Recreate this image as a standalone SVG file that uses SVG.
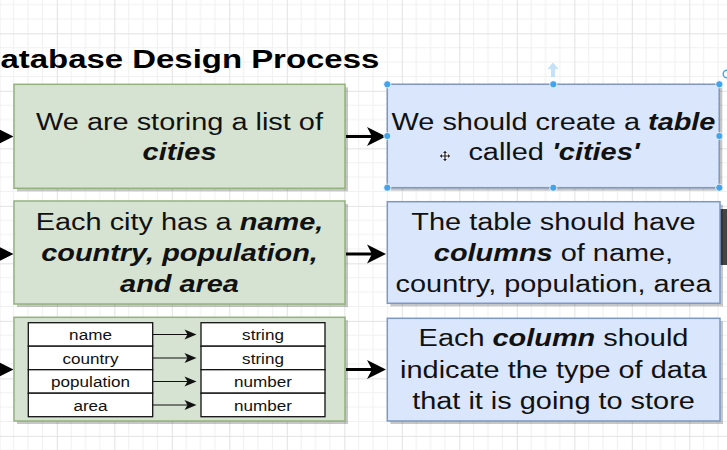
<svg xmlns="http://www.w3.org/2000/svg" width="727" height="450" viewBox="0 0 727 450">
<style>
.t{font-family:"Liberation Sans",Arial,sans-serif;font-size:24.5px;fill:#111;text-anchor:middle}
.s{font-family:"Liberation Sans",Arial,sans-serif;font-size:14.5px;fill:#111;text-anchor:middle}
.bi{font-weight:bold;font-style:italic}
.title{font-family:"Liberation Sans",Arial,sans-serif;font-size:26.5px;font-weight:bold;fill:#000}
.g{fill:#d6e3d2;stroke:#93b27c;stroke-width:1.5}
.b{fill:#dae6fb;stroke:#7d98c4;stroke-width:1.5}
.sh{fill:#000;opacity:.22}
.cell{fill:#fff;stroke:#111;stroke-width:1.3}
.big{stroke:#000;stroke-width:3;fill:none;marker-end:url(#ah)}
.thin{stroke:#111;stroke-width:1.2;fill:none;marker-end:url(#ahs)}
.hd{fill:#45a3ec;stroke:#fff;stroke-width:0.8}
</style>
<defs>
<pattern id="grid" width="57.5" height="57.5" patternUnits="userSpaceOnUse" x="-0.7" y="33.35">
<rect width="57.5" height="57.5" fill="#fff"/>
<path d="M14.375 0V57.5M28.75 0V57.5M43.125 0V57.5M0 14.375H57.5M0 28.75H57.5M0 43.125H57.5" stroke="#f1f1f1" stroke-width="1"/>
<path d="M0.5 0V57.5M0 0.5H57.5" stroke="#e2e2e2" stroke-width="1"/>
</pattern>
<marker id="ah" markerUnits="userSpaceOnUse" markerWidth="20" markerHeight="20" refX="11" refY="9.5" orient="auto" overflow="visible">
<path d="M0,0 L19,9.5 L0,19 L5,9.5 Z" fill="#000"/>
</marker>
<marker id="ahs" markerUnits="userSpaceOnUse" markerWidth="13" markerHeight="11" refX="8" refY="5" orient="auto" overflow="visible">
<path d="M0,0 L12,5 L0,10 L3,5 Z" fill="#111"/>
</marker>
</defs>
<rect width="727" height="450" fill="url(#grid)"/>

<text class="title" transform="translate(0.5,68) scale(1.243,1)">atabase Design Process</text>

<rect x="718" y="209" width="9" height="56" fill="#454545"/>

<g id="connectors">
<path class="big" d="M-30,136.5H5.5"/>
<path class="big" d="M-30,254H5.5"/>
<path class="big" d="M-30,369.5H5.5"/>
<path class="big" d="M346,136.5H378"/>
<path class="big" d="M346,254H378"/>
<path class="big" d="M346,369.5H378"/>
</g>

<g id="node-cities">
<rect class="sh" x="17" y="87.3" width="331" height="104"/>
<rect class="g" x="14" y="84.3" width="331" height="104"/>
<text class="t" transform="translate(179.5,130) scale(1.18,1)">We are storing a list of</text>
<text class="t bi" transform="translate(179.5,159.5) scale(1.18,1)">cities</text>
</g>

<g id="node-attributes">
<rect class="sh" x="17" y="204" width="331" height="103"/>
<rect class="g" x="14" y="201" width="331" height="103"/>
<text class="t" transform="translate(179.5,230) scale(1.18,1)">Each city has a <tspan class="bi">name,</tspan></text>
<text class="t bi" transform="translate(179.5,261) scale(1.18,1)">country, population,</text>
<text class="t bi" transform="translate(179.5,292) scale(1.18,1)">and area</text>
</g>

<g id="node-types">
<rect class="sh" x="17" y="320.3" width="331" height="103.7"/>
<rect class="g" x="14" y="317.3" width="331" height="103.7"/>
<rect class="cell" x="28.3" y="322.7" width="124.4" height="23.5"/>
<rect class="cell" x="28.3" y="346.2" width="124.4" height="23.5"/>
<rect class="cell" x="28.3" y="369.7" width="124.4" height="23.5"/>
<rect class="cell" x="28.3" y="393.2" width="124.4" height="23.5"/>
<rect class="cell" x="201" y="322.7" width="124" height="23.5"/>
<rect class="cell" x="201" y="346.2" width="124" height="23.5"/>
<rect class="cell" x="201" y="369.7" width="124" height="23.5"/>
<rect class="cell" x="201" y="393.2" width="124" height="23.5"/>
<text class="s" transform="translate(90.5,340) scale(1.18,1)">name</text>
<text class="s" transform="translate(90.5,363.5) scale(1.18,1)">country</text>
<text class="s" transform="translate(90.5,387) scale(1.18,1)">population</text>
<text class="s" transform="translate(90.5,410.5) scale(1.18,1)">area</text>
<text class="s" transform="translate(263,340) scale(1.18,1)">string</text>
<text class="s" transform="translate(263,363.5) scale(1.18,1)">string</text>
<text class="s" transform="translate(263,387) scale(1.18,1)">number</text>
<text class="s" transform="translate(263,410.5) scale(1.18,1)">number</text>
<g id="type-connectors">
<path class="thin" d="M153,334.5H192.5"/>
<path class="thin" d="M153,358H192.5"/>
<path class="thin" d="M153,381.5H192.5"/>
<path class="thin" d="M153,405H192.5"/>
</g>
</g>

<g id="node-table">
<rect class="sh" x="390.3" y="87.3" width="332" height="103.4"/>
<rect class="b" x="387.3" y="84.3" width="332" height="103.4"/>
<rect x="387.3" y="84.3" width="332" height="103.4" fill="none" stroke="#8d98ad" stroke-width="1" stroke-dasharray="3 2"/>
<text class="t" transform="translate(553.5,130) scale(1.18,1)">We should create a <tspan class="bi">table</tspan></text>
<text class="t" transform="translate(554,160) scale(1.18,1)">called <tspan class="bi">'cities'</tspan></text>
</g>

<g id="node-columns">
<rect class="sh" x="390.3" y="204.7" width="332.7" height="101.6"/>
<rect class="b" x="387.3" y="201.7" width="332.7" height="101.6"/>
<text class="t" transform="translate(553.5,230) scale(1.18,1)">The table should have</text>
<text class="t" transform="translate(553.5,261) scale(1.18,1)"><tspan class="bi">columns</tspan> of name,</text>
<text class="t" transform="translate(553.5,292) scale(1.18,1)">country, population, area</text>
</g>

<g id="node-datatype">
<rect class="sh" x="390.3" y="321.3" width="332.7" height="102.7"/>
<rect class="b" x="387.3" y="318.3" width="332.7" height="102.7"/>
<text class="t" transform="translate(553.5,346) scale(1.18,1)">Each <tspan class="bi">column</tspan> should</text>
<text class="t" transform="translate(553.5,378) scale(1.18,1)">indicate the type of data</text>
<text class="t" transform="translate(553.5,409) scale(1.18,1)">that it is going to store</text>
</g>

<g id="selection-handles">
<path d="M553,62.5 L558.5,69 L555,69 L555,77 L551,77 L551,69 L547.5,69 Z" fill="#c4e1f7"/>
<circle class="hd" cx="387.3" cy="84.3" r="3.6"/>
<circle class="hd" cx="553.3" cy="84.3" r="3.6"/>
<circle class="hd" cx="719.3" cy="84.3" r="3.6"/>
<circle class="hd" cx="387.3" cy="136" r="3.6"/>
<circle class="hd" cx="719.3" cy="136" r="3.6"/>
<circle class="hd" cx="387.3" cy="187.7" r="3.6"/>
<circle class="hd" cx="553.3" cy="187.7" r="3.6"/>
<circle class="hd" cx="719.3" cy="187.7" r="3.6"/>
<circle cx="727" cy="74" r="3.8" fill="none" stroke="#45a3ec" stroke-width="1.4"/>
<g transform="translate(445,156)">
<path d="M-4.5,0H4.5M0,-4.5V4.5" stroke="#fff" stroke-width="3"/>
<path d="M-4.5,0H4.5M0,-4.5V4.5" stroke="#222" stroke-width="1.2"/>
<path d="M-5,0L-3,-2V2ZM5,0L3,-2V2ZM0,-5L-2,-3H2ZM0,5L-2,3H2Z" fill="#222"/>
</g>
</g>
</svg>
